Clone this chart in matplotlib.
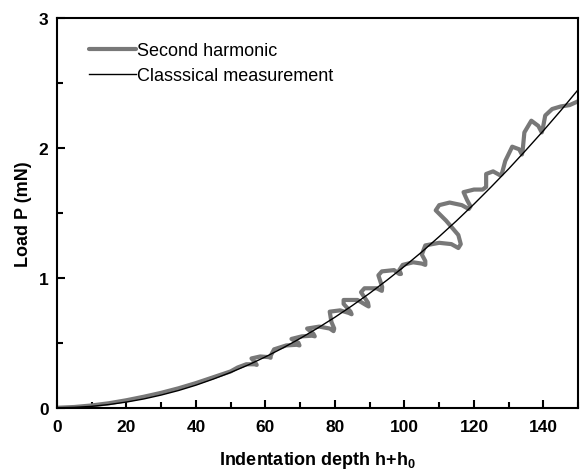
import matplotlib
matplotlib.use('Agg')
import matplotlib.pyplot as plt
from matplotlib.ticker import MultipleLocator

plt.rcParams['font.family'] = ['Liberation Sans', 'DejaVu Sans']
plt.rcParams['mathtext.fontset'] = 'custom'
plt.rcParams['mathtext.rm'] = 'Liberation Sans:bold'
plt.rcParams['mathtext.bf'] = 'Liberation Sans:bold'
plt.rcParams['mathtext.default'] = 'bf'

# classical measurement (smooth loading curve)
classic_h = [0, 5, 10, 15, 20, 25, 30, 35, 40, 45, 50, 55, 60, 65, 70, 75,
             80, 85, 90, 95, 100, 105, 110, 115, 120, 125, 130, 135, 140, 145, 150]
classic_p = [0, 0.003, 0.011, 0.025, 0.044, 0.068, 0.098, 0.133, 0.174, 0.221,
             0.272, 0.329, 0.392, 0.46, 0.534, 0.613, 0.697, 0.787, 0.882, 0.983,
             1.089, 1.2, 1.318, 1.44, 1.568, 1.702, 1.84, 1.985, 2.134, 2.289, 2.45]

# second harmonic trace (loops back and forth along the curve)
harm_h = [0, 5, 10, 15, 20, 25, 30, 35, 40, 45, 50,
          52, 54.5, 57, 57.5, 57,
          56, 58.5, 61, 61.5, 61.5,
          62.5, 66, 69, 69.8, 69.5,
          67.5, 70.5, 73.5, 74.2, 73.8,
          72, 75.5, 78.5, 79.6, 79.8, 79,
          78.5, 81.5, 84, 84.8, 84.5, 82.5,
          82.5, 86.5, 89, 89.7, 89.5, 87.5,
          88.5, 92, 93.5, 93.6, 92.5,
          93.5, 97, 98.5, 99, 98.5,
          99.5, 102.5, 105, 106, 106, 105,
          106, 110, 113.5, 115.5, 116.2, 115.5, 112,
          109, 110, 113, 116.5, 118.5, 119, 118,
          117, 120, 122.5, 123.5, 123.5,
          123.5, 125.5, 127.5, 128, 129, 131, 133, 133.8, 134,
          134.5, 136.5, 138.5, 139.5, 139.8,
          140.5, 142.5, 145, 147.5, 150]
harm_p = [0, 0.006, 0.018, 0.035, 0.058, 0.085, 0.115, 0.15, 0.19, 0.235, 0.28,
          0.31, 0.335, 0.335, 0.33, 0.35,
          0.38, 0.395, 0.39, 0.385, 0.40,
          0.45, 0.48, 0.485, 0.48, 0.50,
          0.53, 0.55, 0.555, 0.55, 0.57,
          0.61, 0.625, 0.61, 0.59, 0.61, 0.66,
          0.74, 0.75, 0.73, 0.72, 0.74, 0.80,
          0.83, 0.83, 0.79, 0.78, 0.81, 0.89,
          0.92, 0.92, 0.90, 0.93, 1.02,
          1.05, 1.06, 1.03, 1.03, 1.06,
          1.10, 1.12, 1.11, 1.10, 1.13, 1.18,
          1.25, 1.27, 1.26, 1.23, 1.26, 1.33, 1.44,
          1.52, 1.56, 1.58, 1.56, 1.53, 1.55, 1.60,
          1.66, 1.68, 1.68, 1.70, 1.74,
          1.80, 1.82, 1.79, 1.80, 1.90, 2.01, 1.99, 1.95, 1.98,
          2.12, 2.21, 2.17, 2.12, 2.15,
          2.25, 2.30, 2.32, 2.33, 2.36]

fig = plt.figure(figsize=(5.8, 4.77), dpi=100)
ax = fig.add_axes([0.098, 0.143, 0.899, 0.817])

ax.plot(harm_h, harm_p, color='#787878', linewidth=3.0, label='Second harmonic',
        solid_joinstyle='round', solid_capstyle='round')
ax.plot(classic_h, classic_p, color='black', linewidth=1.0, label='Classsical measurement')

ax.set_xlim(0, 150)
ax.set_ylim(0, 3)
ax.xaxis.set_major_locator(MultipleLocator(20))
ax.xaxis.set_minor_locator(MultipleLocator(10))
ax.yaxis.set_major_locator(MultipleLocator(1))
ax.yaxis.set_minor_locator(MultipleLocator(0.5))
ax.tick_params(which='both', direction='in', width=1.5, labelsize=12.5)
ax.tick_params(which='major', length=6)
ax.tick_params(which='minor', length=4)
ax.tick_params(axis='x', pad=8)
ax.tick_params(axis='y', pad=6)
for lab in ax.get_xticklabels() + ax.get_yticklabels():
    lab.set_fontweight('bold')
for s in ax.spines.values():
    s.set_linewidth(1.5)

ax.set_xlabel('Indentation depth h+h$_0$', fontsize=13, fontweight='bold', labelpad=11)
ax.set_ylabel('Load P (mN)', fontsize=13, fontweight='bold', labelpad=5)

ax.legend(loc='upper left', frameon=False, fontsize=13, handlelength=2.6,
          handletextpad=0.1, labelspacing=0.45, bbox_to_anchor=(0.03, 0.98))

plt.savefig('out.png', dpi=100)
